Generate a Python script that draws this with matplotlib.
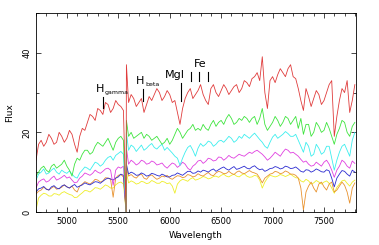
import matplotlib
matplotlib.use('Agg')
from matplotlib import pyplot as plt
from matplotlib.ticker import MultipleLocator


# wavelength grid, 25 A steps, with the 5577 sky line in between
wave = list(range(4700, 5551, 25)) + [5576, 5579] + list(range(5600, 7801, 25))

red = [13, 17, 18, 16.5, 17.5, 19.5, 18.5, 17, 17.5, 20, 19, 17.5, 18.5, 20.5,
       19.5, 17, 15, 19, 21, 20.5, 22.5, 24.5, 24, 23, 26, 25.5, 24.5, 27.5,
       27, 25, 26, 28, 27, 26.5, 25.5,
       0, 37,
       27.5, 29.5, 28.5, 26.5, 27.5, 28.5, 25, 27, 29, 28,
       29.5, 31, 30, 28, 29, 30.5, 29.5, 27.5, 28, 25,
       22, 26, 28.5, 30, 31, 28.5, 29.5, 30.5, 32, 29.5,
       28, 27, 31, 32, 30, 29, 30.5, 32, 31, 29.5,
       30.5, 31.5, 32, 30, 31, 33, 32.5, 31.5, 33.5, 34,
       35, 33, 39, 30, 26, 33, 34, 32.5, 34.5, 36,
       35, 34, 36, 37, 34, 33.5, 31, 28, 25.5, 31,
       29, 26.5, 28.5, 30.5, 29.5, 27, 28, 30, 32, 33,
       19, 24, 28, 31, 30, 33, 25, 28, 32]

green = [9, 10, 11, 11.5, 10.5, 10, 11.5, 12, 11, 11.5, 12, 13, 11.5, 10.5,
         9, 12, 13.5, 13, 14.5, 15.5, 15.5, 14.5, 15, 16.5, 17.5, 17, 16.5,
         17.5, 18.5, 17, 15.5, 17.5, 18.5, 19, 18,
         0, 23,
         19, 20, 18.5, 19, 19.5, 20, 18.5, 19.5, 19, 18,
         18.5, 19, 18, 17, 17.5, 18.5, 17, 18, 19.5, 21,
         20, 18.5, 19.5, 20.5, 21, 22, 20.5, 21, 20.5, 22,
         21, 20.5, 22, 23, 21.5, 22.5, 23, 22, 23.5, 24.5,
         23.5, 22, 22.5, 23.5, 23, 24, 23.5, 22.5, 23.5, 24,
         22, 23.5, 26, 22, 20.5, 21.5, 22.5, 24, 23, 21.5,
         22.5, 24, 23.5, 22, 23, 24, 21, 23.5, 19.5, 22,
         22, 19, 20, 22.5, 21.5, 20, 20.5, 22.5, 21, 19,
         17, 19.5, 21, 23, 22.5, 20, 19, 21.5, 22.5]

cyan = [8, 9.5, 10, 10.8, 9.5, 9.8, 10.5, 11, 10, 9.5, 10.5, 10, 9.7, 10.3,
        9.5, 8.8, 8.5, 9.8, 10.5, 11.3, 11, 10.5, 11.5, 12.5, 12.2, 11.5, 12,
        13, 13.7, 14, 13, 14.2, 14.7, 15.2, 14.5,
        0, 20,
        15.5, 16.8, 16.3, 15.2, 16, 16.8, 15.5, 16, 16.7, 17.2,
        16.2, 15.8, 16.5, 17, 15.5, 16.2, 15.5, 14.8, 14, 13.5,
        11.7, 13.5, 15, 16.2, 16.7, 15.5, 14, 16, 17.2, 16.5,
        17, 17.8, 17.5, 16.5, 17, 17.8, 18, 17.5, 18.2, 19,
        18.5, 17.5, 18, 19, 18.5, 19.5, 19, 18.5, 19.2, 19.8,
        19, 18.2, 17.5, 16.5, 16, 17.5, 18.8, 19.5, 18.5, 19,
        19.5, 20.2, 19.7, 19, 19, 19.5, 18, 16.5, 15, 17.5,
        16.5, 14, 14.5, 17, 16, 14.5, 15, 16.5, 16.5, 13.5,
        10.5, 13, 15, 16.5, 17, 15.5, 14, 18, 20]

magenta = [6, 7.5, 8, 8.3, 7.5, 7.8, 8.5, 9, 8, 8.3, 8.7, 9.2, 8.5, 8.8, 8,
           7.3, 7.5, 8.5, 9, 9.8, 9.5, 9.2, 9.7, 10.5, 10, 9.7, 10.2, 10.8,
           11, 10.5, 6.7, 10.5, 11.3, 11, 11.5,
           0, 16,
           12, 13, 12.5, 11.8, 12.2, 13, 12.7, 12, 12.2, 12.8,
           12.5, 11.8, 12, 12.3, 11.5, 11, 11.7, 12.3, 12, 11.2,
           11.7, 12.5, 12, 11, 10.5, 11.5, 12, 12.8, 13, 12.2,
           12.7, 13.5, 13.3, 12.8, 13, 13.8, 13.7, 13, 13.5, 14.2,
           13.7, 13.5, 14, 14.5, 14.2, 14, 14.5, 15, 14.7, 15.2,
           15.5, 15, 14.5, 13.8, 13, 13.5, 14.2, 15, 14.5, 14,
           15, 15.8, 15.5, 14.8, 15, 14.5, 14, 13.2, 12.5, 12.8,
           12, 11.5, 11.7, 12.5, 12, 11.5, 12.5, 13, 12, 10.5,
           8.7, 10.5, 11.5, 13, 12.5, 11.5, 11, 12.8, 12.2]

blue = [5, 5.8, 6, 6.4, 5.7, 5.5, 6.3, 6.6, 6, 5.8, 6.5, 6.8, 6.3, 6, 6.5,
        6.9, 6.2, 6.5, 6.8, 7.3, 7, 6.8, 7.2, 7.6, 7.5, 7.2, 7.7, 8.2, 8.5,
        8.3, 8, 8.5, 8.8, 9.5, 9.2,
        0, 12,
        9.5, 10, 9.7, 9.2, 9.3, 9.8, 9.5, 9, 9.2, 9.7,
        9.5, 9.2, 9, 9.5, 9.2, 8.8, 8.8, 9.2, 9.3, 9.8,
        9.5, 9.2, 9.7, 10.2, 10.2, 9.7, 9.8, 10.3, 10, 10.5,
        10.3, 10, 10.5, 10.8, 10.2, 10.6, 11, 11.3, 10.8, 10.5,
        11, 11.4, 10.7, 10.9, 11.2, 11.5, 11, 10.8, 11.3, 11.6,
        11, 10.6, 10.8, 10.2, 10.5, 10.9, 11, 11.4, 11.2, 10.8,
        11, 11.5, 11.3, 10.9, 11, 11.3, 10.8, 10.2, 10, 10.6,
        10.5, 10, 10.3, 10.8, 10.5, 10.1, 10, 10.6, 10.3, 8.5,
        6.3, 8.5, 9.5, 10.4, 10.2, 9.5, 9, 10.5, 10]

orange = [4.5, 5.2, 5.5, 6.2, 5.8, 5.5, 6, 6.4, 5.7, 5.9, 6.2, 6.8, 6.3, 6,
          6.5, 5.5, 5, 6.5, 7, 7.6, 7.3, 7, 7.5, 8.2, 8, 7.5, 7.8, 8.6, 8.5,
          8.2, 3.7, 8.5, 9.2, 9.4, 8.8,
          0, 11,
          9, 9.4, 8.8, 8.5, 9.2, 9.5, 8.5, 8.2, 9, 9.3,
          8.7, 8.2, 8.5, 9, 8.8, 9.2, 8.5, 8.2, 8.7, 9.1,
          9, 8.6, 8.8, 9.4, 9.2, 8.8, 9, 9.6, 9.2, 9,
          9.5, 9.9, 9.3, 9.1, 9.8, 10.2, 10, 9.6, 9.7, 10.2,
          9.7, 9.4, 10, 10.3, 9.8, 9.6, 10, 10.4, 10, 9.8,
          9.5, 8.5, 7.3, 8.5, 9, 9.5, 9.7, 10.2, 10, 9.6,
          9.8, 10.3, 10, 9.5, 9.5, 9.2, 8.5, 6, 0.5, 5,
          6.5, 7.5, 6, 5, 7, 7.5, 6.3, 5.5, 7, 7.5,
          5, 5.5, 6.5, 7.5, 6.7, 5, 2.2, 6, 7.3]

yellow = [0.5, 3.5, 4.2, 4.7, 4.5, 4, 4, 4.6, 4.5, 4.2, 4.8, 5.1, 4.7, 4.4,
          4.2, 3.6, 3.7, 4.3, 4.8, 5.4, 5.3, 5, 5.5, 6.1, 6, 5.7, 6.2, 6.8,
          6.5, 6, 6, 6.8, 7.3, 7.5, 7,
          0, 10,
          7.3, 7.8, 7.5, 7, 7.2, 7.7, 7.5, 7.1, 7.3, 7.9,
          7.6, 7.2, 7.2, 7.7, 7.5, 7.1, 7.3, 6.5, 4.7, 7,
          7.8, 8.2, 8, 7.7, 8.3, 8.6, 8, 8.2, 8.5, 8.9,
          8.7, 8.3, 8.5, 8.9, 9, 8.7, 9.2, 9.5, 9, 8.8,
          9.2, 9.5, 9, 8.8, 9.3, 9.6, 9, 8.7, 8.8, 9.2,
          9, 8, 6, 7.5, 8.5, 9.2, 9, 8.8, 9, 9.4,
          9.2, 8.9, 9.2, 9.5, 9, 8.6, 8.5, 7.8, 7.5, 8.2,
          7.8, 7, 7.3, 7.9, 7.5, 7, 7.5, 7.8, 7.2, 6,
          4.7, 6.2, 7, 7.8, 8, 7.2, 6.5, 7.5, 8]

# line identifications
line_names = ['gamma', 'beta', 'MgI']
line_waves = [5350, 5739, 6109]
fe_waves = [6206, 6284, 6372]


fig = plt.figure(figsize=(3.79, 2.45), dpi=100)
ax = fig.add_axes([0.095, 0.135, 0.844, 0.812])

series = [(yellow, '#eeee2a'), (orange, '#e8922e'), (blue, '#2b2bd0'),
          (magenta, '#e040e0'), (cyan, '#3ceeee'), (green, '#3ee43e'),
          (red, '#e03c3c')]
for y, c in series:
    ax.plot(wave, y, '-', color=c, lw=0.6)

# labels for the absorption features
ax.plot([line_waves[0]] * 2, [26, 29], 'k-', lw=0.8)
ax.text(5321, 31, 'H', fontsize=8, ha='center', va='center')
ax.text(5370, 30, line_names[0], fontsize=4.5, ha='left', va='center')

ax.plot([line_waves[1]] * 2, [28, 31], 'k-', lw=0.8)
ax.text(5715, 33, 'H', fontsize=8, ha='center', va='center')
ax.text(5768, 32, line_names[1], fontsize=4.5, ha='left', va='center')

ax.plot([line_waves[2]] * 2, [28, 32.5], 'k-', lw=0.8)
ax.text(6050, 34.3, line_names[2], fontsize=8, ha='center', va='center')

for w in fe_waves:
    ax.plot([w, w], [33, 35.2], 'k-', lw=0.8)
ax.text(6294, 37.3, 'Fe', fontsize=8, ha='center', va='center')

ax.set_xlim(4700, 7810)
ax.set_ylim(0, 50)
ax.xaxis.set_major_locator(MultipleLocator(500))
ax.xaxis.set_minor_locator(MultipleLocator(100))
ax.yaxis.set_major_locator(MultipleLocator(20))
ax.yaxis.set_minor_locator(MultipleLocator(10))
ax.tick_params(which='both', direction='in', top=True, right=True,
               width=0.5, labelsize=6)
ax.tick_params(which='major', length=3.5)
ax.tick_params(which='minor', length=2)
plt.setp(ax.get_yticklabels(), rotation=90, va='center')
for s in ax.spines.values():
    s.set_linewidth(0.6)

ax.set_xlabel('Wavelength', fontsize=6.5, labelpad=4)
ax.set_ylabel('Flux', fontsize=6.5, labelpad=6)

fig.savefig('out.png', dpi=100)
